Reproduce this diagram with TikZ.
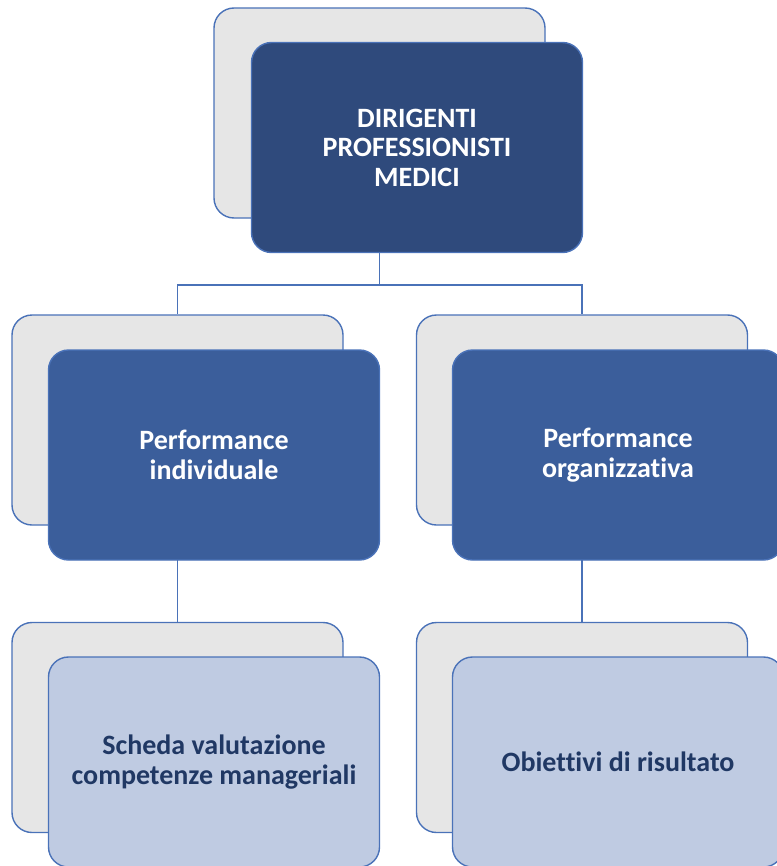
\documentclass[tikz,border=0pt]{standalone}
\usepackage{fontspec}
\setmainfont[Ligatures=NoCommon]{Carlito}
\definecolor{backfill}{HTML}{E6E6E6}
\definecolor{edge}{HTML}{4A72B8}
\definecolor{topfill}{HTML}{2F4A7C}
\definecolor{midfill}{HTML}{3B5E9B}
\definecolor{lowfill}{HTML}{BFCBE2}
\definecolor{lowtext}{HTML}{203864}
\begin{document}
\begin{tikzpicture}[x=1bp,y=-1bp,
  box/.style={rectangle, rounded corners=20bp, draw=edge, line width=1.4bp,
    minimum width=331bp, minimum height=210bp, inner sep=0pt, align=center,
    font=\fontsize{28bp}{29.5bp}\selectfont\bfseries},
  backbox/.style={box, fill=backfill},
  topbox/.style={box, fill=topfill, text=white},
  midbox/.style={box, fill=midfill, text=white},
  lowbox/.style={box, fill=lowfill, text=lowtext},
  conn/.style={draw=edge, line width=1.4bp}]
\useasboundingbox (0,0) rectangle (777,866);
% back boxes
\node[backbox] (topB) at (379.5,113) {};
\node[backbox] (midLB) at (177.5,420) {};
\node[backbox] (midRB) at (582,420) {};
\node[backbox] (lowLB) at (177.5,727.5) {};
\node[backbox] (lowRB) at (582,727.5) {};
% connectors
\coordinate (junc) at (379.5,285);
\draw[conn] (topB.center |- 0,253) -- (junc) -| (midLB.north);
\draw[conn] (junc) -| (midRB.north);
\draw[conn] (midLB.center |- 0,560) -- (lowLB.north);
\draw[conn] (midRB.center |- 0,560) -- (lowRB.north);
% front boxes
\node[topbox] (topF) at (417,147.5) {DIRIGENTI\\PROFESSIONISTI\\MEDICI};
\node[midbox] (midLF) at (214,455) {Performance\\individuale};
\node[midbox] (midRF) at (618,455) {Performance\\organizzativa};
\node[lowbox] (lowLF) at (214,762) {Scheda valutazione\\competenze manageriali};
\node[lowbox] (lowRF) at (618,762) {Obiettivi di risultato};
\end{tikzpicture}
\end{document}
